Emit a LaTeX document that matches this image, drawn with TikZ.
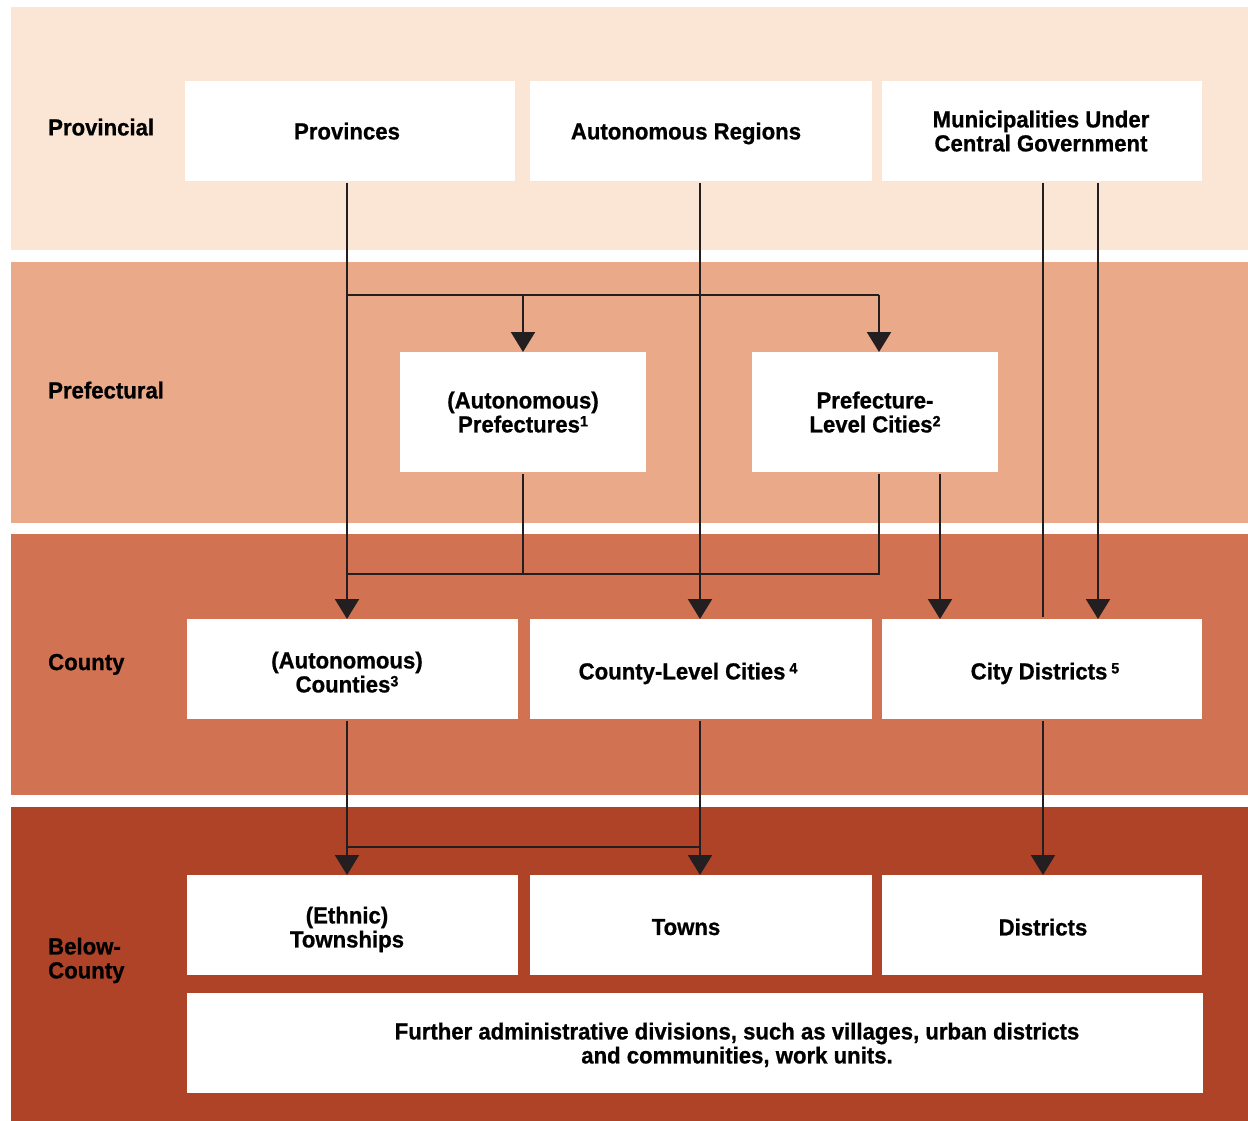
\documentclass[tikz,border=0pt]{standalone}
\usepackage{fontspec}
\setmainfont{Liberation Sans}[FakeStretch=0.955,BoldFeatures={FakeBold=0.8}]
\usetikzlibrary{arrows.meta}
\definecolor{bandA}{HTML}{FBE6D5}
\definecolor{bandB}{HTML}{EAA989}
\definecolor{bandC}{HTML}{D17352}
\definecolor{bandD}{HTML}{AF4328}
\definecolor{ink}{HTML}{231F20}
\newcommand\supnum[1]{\raisebox{6pt}{\fontsize{15}{15}\selectfont #1}}
\begin{document}
\begin{tikzpicture}[x=1pt,y=-1pt,
  font=\fontsize{23.2}{24}\selectfont\bfseries,
  box/.style 2 args={fill=white,draw=none,inner sep=0pt,anchor=north west,minimum width=#1,minimum height=#2},
  txt/.style={inner sep=0pt,align=center,text depth=0pt,text=black},
  rowlbl/.style={inner sep=0pt,align=left,anchor=west,text depth=0pt,text=black},
  ln/.style={draw=ink,line width=2.2pt},
  tip/.style={-{Triangle[width=24pt,length=20pt]}},
  gap/.style={shorten <=2pt}]
\useasboundingbox (0,0) rectangle (1248,1121);
\fill[white] (0,0) rectangle (1248,1121);
% bands
\fill[bandA] (11,7) rectangle (1248,250);
\fill[bandB] (11,262) rectangle (1248,523);
\fill[bandC] (11,534) rectangle (1248,795);
\fill[bandD] (11,807) rectangle (1248,1121);
% row labels
\node[rowlbl] (lP) at (48,127) {Provincial};
\node[rowlbl] (lF) at (48,390) {Prefectural};
\node[rowlbl] (lC) at (48,662) {County};
\node[rowlbl] (lB) at (48,958) {Below-\\County};
% boxes
\node[box={330pt}{100pt}] (prov) at (185,81) {};
\node[box={342pt}{100pt}] (ar) at (530,81) {};
\node[box={320pt}{100pt}] (muni) at (882,81) {};
\node[box={246pt}{120pt}] (pref) at (400,352) {};
\node[box={246pt}{120pt}] (plc) at (752,352) {};
\node[box={331pt}{100pt}] (cnty) at (187,619) {};
\node[box={342pt}{100pt}] (clc) at (530,619) {};
\node[box={320pt}{100pt}] (cd) at (882,619) {};
\node[box={331pt}{100pt}] (twp) at (187,875) {};
\node[box={342pt}{100pt}] (towns) at (530,875) {};
\node[box={320pt}{100pt}] (dist) at (882,875) {};
\node[box={1016pt}{100pt}] (further) at (187,993) {};
% texts
\node[txt] (provT) at (347,131) {Provinces};
\node[txt] (arT) at (686,131) {Autonomous Regions};
\node[txt] (muniT) at (1041,131) {Municipalities Under\\Central Government};
\node[txt] (prefT) at (523,412) {(Autonomous)\\Prefectures\supnum{1}};
\node[txt] (plcT) at (875,412) {Prefecture-\\Level Cities\supnum{2}};
\node[txt] (cntyT) at (347,672) {(Autonomous)\\Counties\supnum{3}};
\node[txt] (clcT) at (688,671) {County-Level Cities\,\supnum{4}};
\node[txt] (cdT) at (1045,671) {City Districts\,\supnum{5}};
\node[txt] (twpT) at (347,927) {(Ethnic)\\Townships};
\node[txt] (townsT) at (686,927) {Towns};
\node[txt] (distT) at (1043,927) {Districts};
\node[txt] (furtherT) at (737,1043) {Further administrative divisions, such as villages, urban districts\\and communities, work units.};
% column / row reference coordinates
\coordinate (cL) at (347,0);
\coordinate (cP) at (523,0);
\coordinate (cM) at (700,0);
\coordinate (cQ) at (879,0);
\coordinate (cT) at (940,0);
\coordinate (cR) at (1043,0);
\coordinate (cS) at (1098,0);
\coordinate (r1) at (0,295);
\coordinate (r2) at (0,574);
\coordinate (r3) at (0,847);
% connectors
\draw[ln,tip,gap] (prov.south -| cL) -- (cnty.north -| cL);
\draw[ln] (cL |- r1) -- (cQ |- r1);
\draw[ln,tip] (cP |- r1) -- (pref.north -| cP);
\draw[ln,tip] (cQ |- r1) -- (plc.north -| cQ);
\draw[ln,tip,gap] (ar.south -| cM) -- (clc.north -| cM);
\draw[ln,gap] (muni.south -| cR) -- ([yshift=2pt]cd.north -| cR);
\draw[ln,tip,gap] (muni.south -| cS) -- (cd.north -| cS);
\draw[ln,gap] (pref.south -| cP) -- (cP |- r2);
\draw[ln,gap] (plc.south -| cQ) -- (cQ |- r2) -- (cL |- r2);
\draw[ln,tip,gap] (plc.south -| cT) -- (cd.north -| cT);
\draw[ln,tip,gap] (cnty.south -| cL) -- (twp.north -| cL);
\draw[ln,tip,gap] (clc.south -| cM) -- (towns.north -| cM);
\draw[ln] (cL |- r3) -- (cM |- r3);
\draw[ln,tip,gap] (cd.south -| cR) -- (dist.north -| cR);
\end{tikzpicture}
\end{document}
